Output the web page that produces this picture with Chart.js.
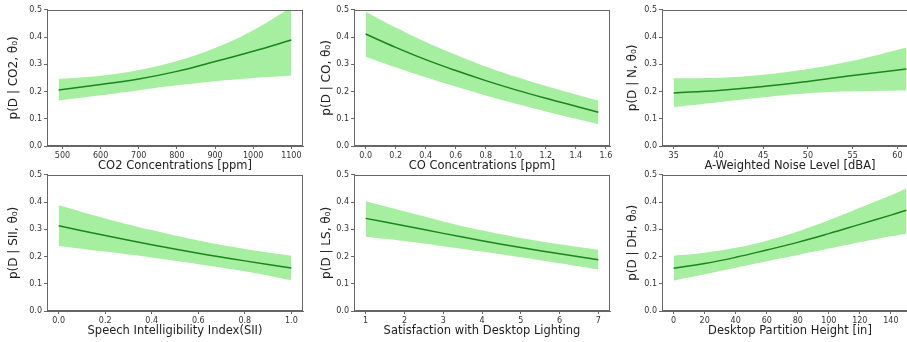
<!DOCTYPE html>
<html lang="en">
  <head>
    <meta charset="UTF-8" />
    <title>Disturbance probability panels</title>
    <style>
      body {
        margin: 0;
        background: #ffffff;
        overflow: hidden;
      }
      #wrap {
        position: relative;
        width: 907px;
        height: 342px;
        overflow: hidden;
      }
      canvas {
        position: absolute;
      }
    </style>
    <script src="https://cdn.jsdelivr.net/npm/chart.js"></script>
  </head>
  <body>
    <div id="wrap"></div>
    <script>
      // values
      const co2X = [490, 600, 700, 800, 900, 1000, 1100];
      const co2Mean = [0.206, 0.226, 0.246, 0.274, 0.310, 0.348, 0.389];
      const co2Low = [0.167, 0.186, 0.205, 0.223, 0.238, 0.250, 0.259];
      const co2High = [0.246, 0.258, 0.279, 0.312, 0.360, 0.425, 0.510];
      const co2Ticks = [500, 600, 700, 800, 900, 1000, 1100];

      const coX = [0, 0.2, 0.4, 0.6, 0.8, 1.0, 1.2, 1.4, 1.55];
      const coMean = [0.411, 0.362, 0.317, 0.277, 0.240, 0.206, 0.175, 0.146, 0.124];
      const coLow = [0.328, 0.289, 0.252, 0.218, 0.185, 0.155, 0.127, 0.100, 0.080];
      const coHigh = [0.493, 0.435, 0.382, 0.335, 0.292, 0.254, 0.220, 0.189, 0.167];
      const coTicks = [0, 0.2, 0.4, 0.6, 0.8, 1.0, 1.2, 1.4, 1.6];

      const noiseX = [35, 40, 45, 50, 55, 61];
      const noiseMean = [0.195, 0.204, 0.218, 0.237, 0.259, 0.283];
      const noiseLow = [0.143, 0.161, 0.179, 0.194, 0.201, 0.204];
      const noiseHigh = [0.249, 0.251, 0.262, 0.283, 0.313, 0.362];
      const noiseTicks = [35, 40, 45, 50, 55, 60];

      const siiX = [0, 0.2, 0.4, 0.6, 0.8, 1.0];
      const siiMean = [0.313, 0.277, 0.243, 0.212, 0.184, 0.158];
      const siiLow = [0.239, 0.218, 0.196, 0.172, 0.146, 0.113];
      const siiHigh = [0.388, 0.340, 0.297, 0.259, 0.228, 0.203];
      const siiTicks = [0, 0.2, 0.4, 0.6, 0.8, 1.0];

      const lsX = [1, 2, 3, 4, 5, 6, 7];
      const lsMean = [0.340, 0.313, 0.285, 0.258, 0.233, 0.210, 0.188];
      const lsLow = [0.273, 0.257, 0.238, 0.218, 0.197, 0.175, 0.152];
      const lsHigh = [0.403, 0.366, 0.329, 0.296, 0.268, 0.245, 0.225];
      const lsTicks = [1, 2, 3, 4, 5, 6, 7];

      const dhX = [0, 20, 40, 60, 80, 100, 120, 140, 150];
      const dhMean = [0.157, 0.174, 0.197, 0.224, 0.252, 0.284, 0.318, 0.352, 0.370];
      const dhLow = [0.112, 0.135, 0.159, 0.183, 0.206, 0.229, 0.252, 0.274, 0.284];
      const dhHigh = [0.203, 0.214, 0.232, 0.258, 0.292, 0.333, 0.379, 0.425, 0.450];
      const dhTicks = [0, 20, 40, 60, 80, 100, 120, 140];

      const yTicks = [0, 0.1, 0.2, 0.3, 0.4, 0.5];

      const FONT = "'DejaVu Sans', sans-serif";
      const BAND = "rgb(166, 238, 160)";
      const LINE = "#1a861a";
      const SPINE = "#666";

      // outer box of each axes (matplotlib draws all four spines)
      const spinePlugin = {
        id: "spines",
        afterDraw(chart) {
          const a = chart.chartArea;
          const c = chart.ctx;
          const l = Math.round(a.left) + 0.5;
          const r = Math.round(a.right) - 0.5;
          const t = Math.round(a.top) + 0.5;
          const b = Math.round(a.bottom) - 0.5;
          c.save();
          c.strokeStyle = SPINE;
          c.lineWidth = 1;
          c.strokeRect(l, t, r - l, b - t);
          c.restore();
        },
      };

      function pts(xs, ys) {
        return xs.map((x, i) => ({ x: x, y: ys[i] }));
      }

      function makePanel(p) {
        const yW = 47;
        const padTop = 6;
        const padRight = 14;
        const plotW = 256;
        const plotH = 137;
        const xH = 30;

        const canvas = document.createElement("canvas");
        canvas.width = yW + plotW + padRight;
        canvas.height = padTop + plotH + xH;
        canvas.style.left = p.left - yW + "px";
        canvas.style.top = p.top - padTop + "px";
        document.getElementById("wrap").appendChild(canvas);

        const span = p.x[p.x.length - 1] - p.x[0];
        const xmin = p.x[0] - span * 0.05;
        const xmax = p.x[p.x.length - 1] + span * 0.05;

        new Chart(canvas, {
          type: "line",
          data: {
            datasets: [
              {
                data: pts(p.x, p.low),
                borderWidth: 0,
                pointRadius: 0,
                fill: false,
                tension: 0.4,
                order: 2,
              },
              {
                data: pts(p.x, p.high),
                borderWidth: 0,
                pointRadius: 0,
                fill: "-1",
                backgroundColor: BAND,
                tension: 0.4,
                order: 1,
              },
              {
                data: pts(p.x, p.mean),
                borderColor: LINE,
                borderWidth: 1.5,
                pointRadius: 0,
                fill: false,
                tension: 0.4,
                order: 0,
              },
            ],
          },
          options: {
            responsive: false,
            animation: false,
            events: [],
            layout: { padding: { top: padTop, right: padRight, left: 0, bottom: 0 } },
            plugins: { legend: { display: false }, tooltip: { enabled: false } },
            scales: {
              x: {
                type: "linear",
                min: xmin,
                max: xmax,
                afterBuildTicks: (s) => {
                  s.ticks = p.ticks.map((v) => ({ value: v }));
                },
                afterFit: (s) => {
                  s.height = xH;
                },
                grid: { drawOnChartArea: false, drawTicks: true, tickLength: 3, color: SPINE },
                border: { display: true, color: SPINE, width: 1 },
                ticks: {
                  font: { family: FONT, size: 8 },
                  color: "#333",
                  padding: 2,
                  maxRotation: 0,
                  autoSkip: false,
                  callback: (v) => v.toFixed(p.dec),
                },
                title: {
                  display: true,
                  text: p.xTitle,
                  font: { family: FONT, size: 11.5 },
                  color: "#222",
                  padding: { top: 0, bottom: 3 },
                },
              },
              y: {
                min: 0,
                max: 0.5,
                afterBuildTicks: (s) => {
                  s.ticks = yTicks.map((v) => ({ value: v }));
                },
                afterFit: (s) => {
                  s.width = yW;
                },
                grid: { drawOnChartArea: false, drawTicks: true, tickLength: 3, color: SPINE },
                border: { display: true, color: SPINE, width: 1 },
                ticks: {
                  font: { family: FONT, size: 8 },
                  color: "#333",
                  padding: 2,
                  autoSkip: false,
                  callback: (v) => v.toFixed(1),
                },
                title: {
                  display: true,
                  text: p.yTitle,
                  font: { family: FONT, size: 12 },
                  color: "#222",
                  padding: { top: p.yPad, bottom: 0 },
                },
              },
            },
          },
          plugins: [spinePlugin],
        });
      }

      const panels = [
        { x: co2X, mean: co2Mean, low: co2Low, high: co2High, ticks: co2Ticks, dec: 0,
          xTitle: "CO2 Concentrations [ppm]", yTitle: "p(D | CO2, θ₀)", left: 47, top: 9, yPad: 7 },
        { x: coX, mean: coMean, low: coLow, high: coHigh, ticks: coTicks, dec: 1,
          xTitle: "CO Concentrations [ppm]", yTitle: "p(D | CO, θ₀)", left: 354, top: 9, yPad: 13 },
        { x: noiseX, mean: noiseMean, low: noiseLow, high: noiseHigh, ticks: noiseTicks, dec: 0,
          xTitle: "A-Weighted Noise Level [dBA]", yTitle: "p(D | N, θ₀)", left: 662, top: 9, yPad: 11 },
        { x: siiX, mean: siiMean, low: siiLow, high: siiHigh, ticks: siiTicks, dec: 1,
          xTitle: "Speech Intelligibility Index(SII)", yTitle: "p(D | SII, θ₀)", left: 47, top: 174, yPad: 7 },
        { x: lsX, mean: lsMean, low: lsLow, high: lsHigh, ticks: lsTicks, dec: 0,
          xTitle: "Satisfaction with Desktop Lighting", yTitle: "p(D | LS, θ₀)", left: 354, top: 174, yPad: 13 },
        { x: dhX, mean: dhMean, low: dhLow, high: dhHigh, ticks: dhTicks, dec: 0,
          xTitle: "Desktop Partition Height [in]", yTitle: "p(D | DH, θ₀)", left: 662, top: 174, yPad: 11 },
      ];

      panels.forEach(makePanel);
    </script>
  </body>
</html>
